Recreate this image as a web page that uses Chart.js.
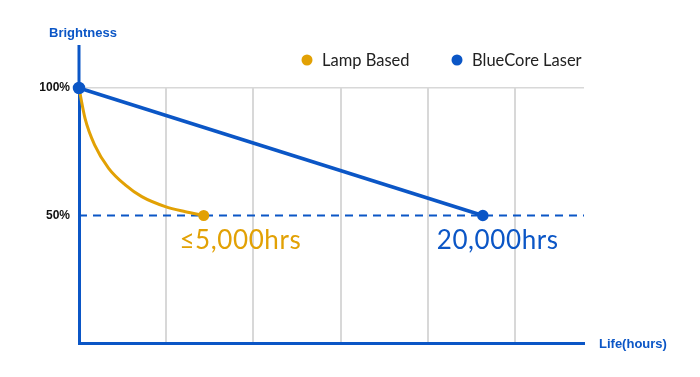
<!DOCTYPE html>
<html>
<head>
<meta charset="utf-8">
<script src="https://cdn.jsdelivr.net/npm/chart.js@4.4.1/dist/chart.umd.min.js"></script>
<style>
  html, body { margin: 0; padding: 0; background: #fff; }
  #wrap { width: 700px; height: 377px; position: relative; }
</style>
</head>
<body>
<div id="wrap"><canvas id="chart"></canvas></div>
<script>
// life axis is in grid units (one vertical grid line per unit)
const lampX = [0, 0.07, 0.18, 0.34, 0.53, 0.72, 0.99, 1.22, 1.43];
const lampY = [100, 88, 77.6, 68.5, 62, 57.4, 53.5, 51.5, 50];
const laserX = [0, 4.63];
const laserY = [100, 50];
const refX = [0, 5.79];
const refY = [50, 50];
const yTicks = [50, 100];
const yTickLabels = ['50%', '100%'];
const xGrid = [0, 1, 2, 3, 4, 5];
const seriesNames = ['Lamp Based', 'BlueCore Laser'];
const endLabels = ['≤5,000hrs', '20,000hrs'];

const GOLD = '#e2a104';
const BLUE = '#0b56c6';
const HUMAN = 'Lato, "Open Sans", sans-serif';
const BOLD = 'bold 13px "Liberation Sans", Arial, sans-serif';

const pts = (xs, ys) => xs.map((x, i) => ({ x, y: ys[i] }));

const extras = {
  id: 'extras',
  afterDraw(chart) {
    const { ctx, chartArea: a, scales: { x, y } } = chart;
    ctx.save();
    // y axis extends up past 100%
    ctx.strokeStyle = BLUE;
    ctx.lineWidth = 3;
    ctx.beginPath();
    ctx.moveTo(a.left, a.top + 1);
    ctx.lineTo(a.left, 45);
    ctx.stroke();

    ctx.fillStyle = BLUE;
    ctx.font = BOLD;
    ctx.textAlign = 'center';
    ctx.textBaseline = 'middle';
    ctx.fillText('Brightness', a.left + 4, 33);
    ctx.textAlign = 'left';
    ctx.fillText('Life(hours)', a.right + 15, a.bottom + 1);

    // legend
    const legend = [[seriesNames[0], GOLD, 307], [seriesNames[1], BLUE, 457]];
    ctx.font = '16.5px ' + HUMAN;
    ctx.textAlign = 'left';
    legend.forEach(([t, c, lx]) => {
      ctx.fillStyle = c;
      ctx.beginPath();
      ctx.arc(lx, 60, 5.5, 0, Math.PI * 2);
      ctx.fill();
      ctx.fillStyle = '#222';
      ctx.fillText(t, lx + 15, 61);
    });

    // end labels
    ctx.font = '26px ' + HUMAN;
    ctx.letterSpacing = '0.6px';
    ctx.textAlign = 'center';
    ctx.fillStyle = GOLD;
    ctx.fillText(endLabels[0], x.getPixelForValue(1.85), y.getPixelForValue(40));
    ctx.fillStyle = BLUE;
    ctx.fillText(endLabels[1], x.getPixelForValue(4.80), y.getPixelForValue(40));
    ctx.restore();
  }
};

new Chart(document.getElementById('chart'), {
  type: 'line',
  data: {
    datasets: [
      {
        label: 'ref',
        data: pts(refX, refY),
        borderColor: BLUE,
        borderWidth: 1.8,
        borderDash: [8, 6],
        pointRadius: 0,
        order: 3,
      },
      {
        label: seriesNames[0],
        data: pts(lampX, lampY),
        borderColor: GOLD,
        backgroundColor: GOLD,
        borderWidth: 3,
        cubicInterpolationMode: 'monotone',
        pointRadius: lampX.map((_, i) => i === lampX.length - 1 ? 4 : 0),
        clip: false,
        order: 2,
      },
      {
        label: seriesNames[1],
        data: pts(laserX, laserY),
        borderColor: BLUE,
        backgroundColor: BLUE,
        borderWidth: 3.5,
        pointRadius: [4.5, 4],
        clip: false,
        order: 1,
      },
    ],
  },
  options: {
    responsive: true,
    maintainAspectRatio: false,
    animation: false,
    layout: { padding: { top: 88, right: 116, left: 0, bottom: 0 } },
    plugins: { legend: { display: false }, tooltip: { enabled: false } },
    scales: {
      x: {
        type: 'linear',
        min: 0,
        max: refX[1],
        afterFit: s => { s.height = 34; },
        afterBuildTicks: s => { s.ticks = xGrid.map(v => ({ value: v })); },
        ticks: { display: false },
        grid: {
          color: c => c.tick && c.tick.value > 0 ? '#d8d8d8' : 'transparent',
          lineWidth: 2,
          drawTicks: false,
        },
        border: { color: BLUE, width: 3 },
      },
      y: {
        min: 0,
        max: 100,
        afterFit: s => { s.width = 79; },
        afterBuildTicks: s => { s.ticks = yTicks.map(v => ({ value: v })); },
        ticks: {
          color: '#111',
          font: { family: '"Liberation Sans", Arial, sans-serif', size: 12, weight: 'bold' },
          padding: 9,
          callback: v => yTickLabels[yTicks.indexOf(v)],
        },
        grid: {
          color: c => c.tick && c.tick.value === 100 ? '#d8d8d8' : 'transparent',
          lineWidth: 1.5,
          drawTicks: false,
        },
        border: { color: BLUE, width: 3 },
      },
    },
  },
  plugins: [extras],
});
</script>
</body>
</html>
